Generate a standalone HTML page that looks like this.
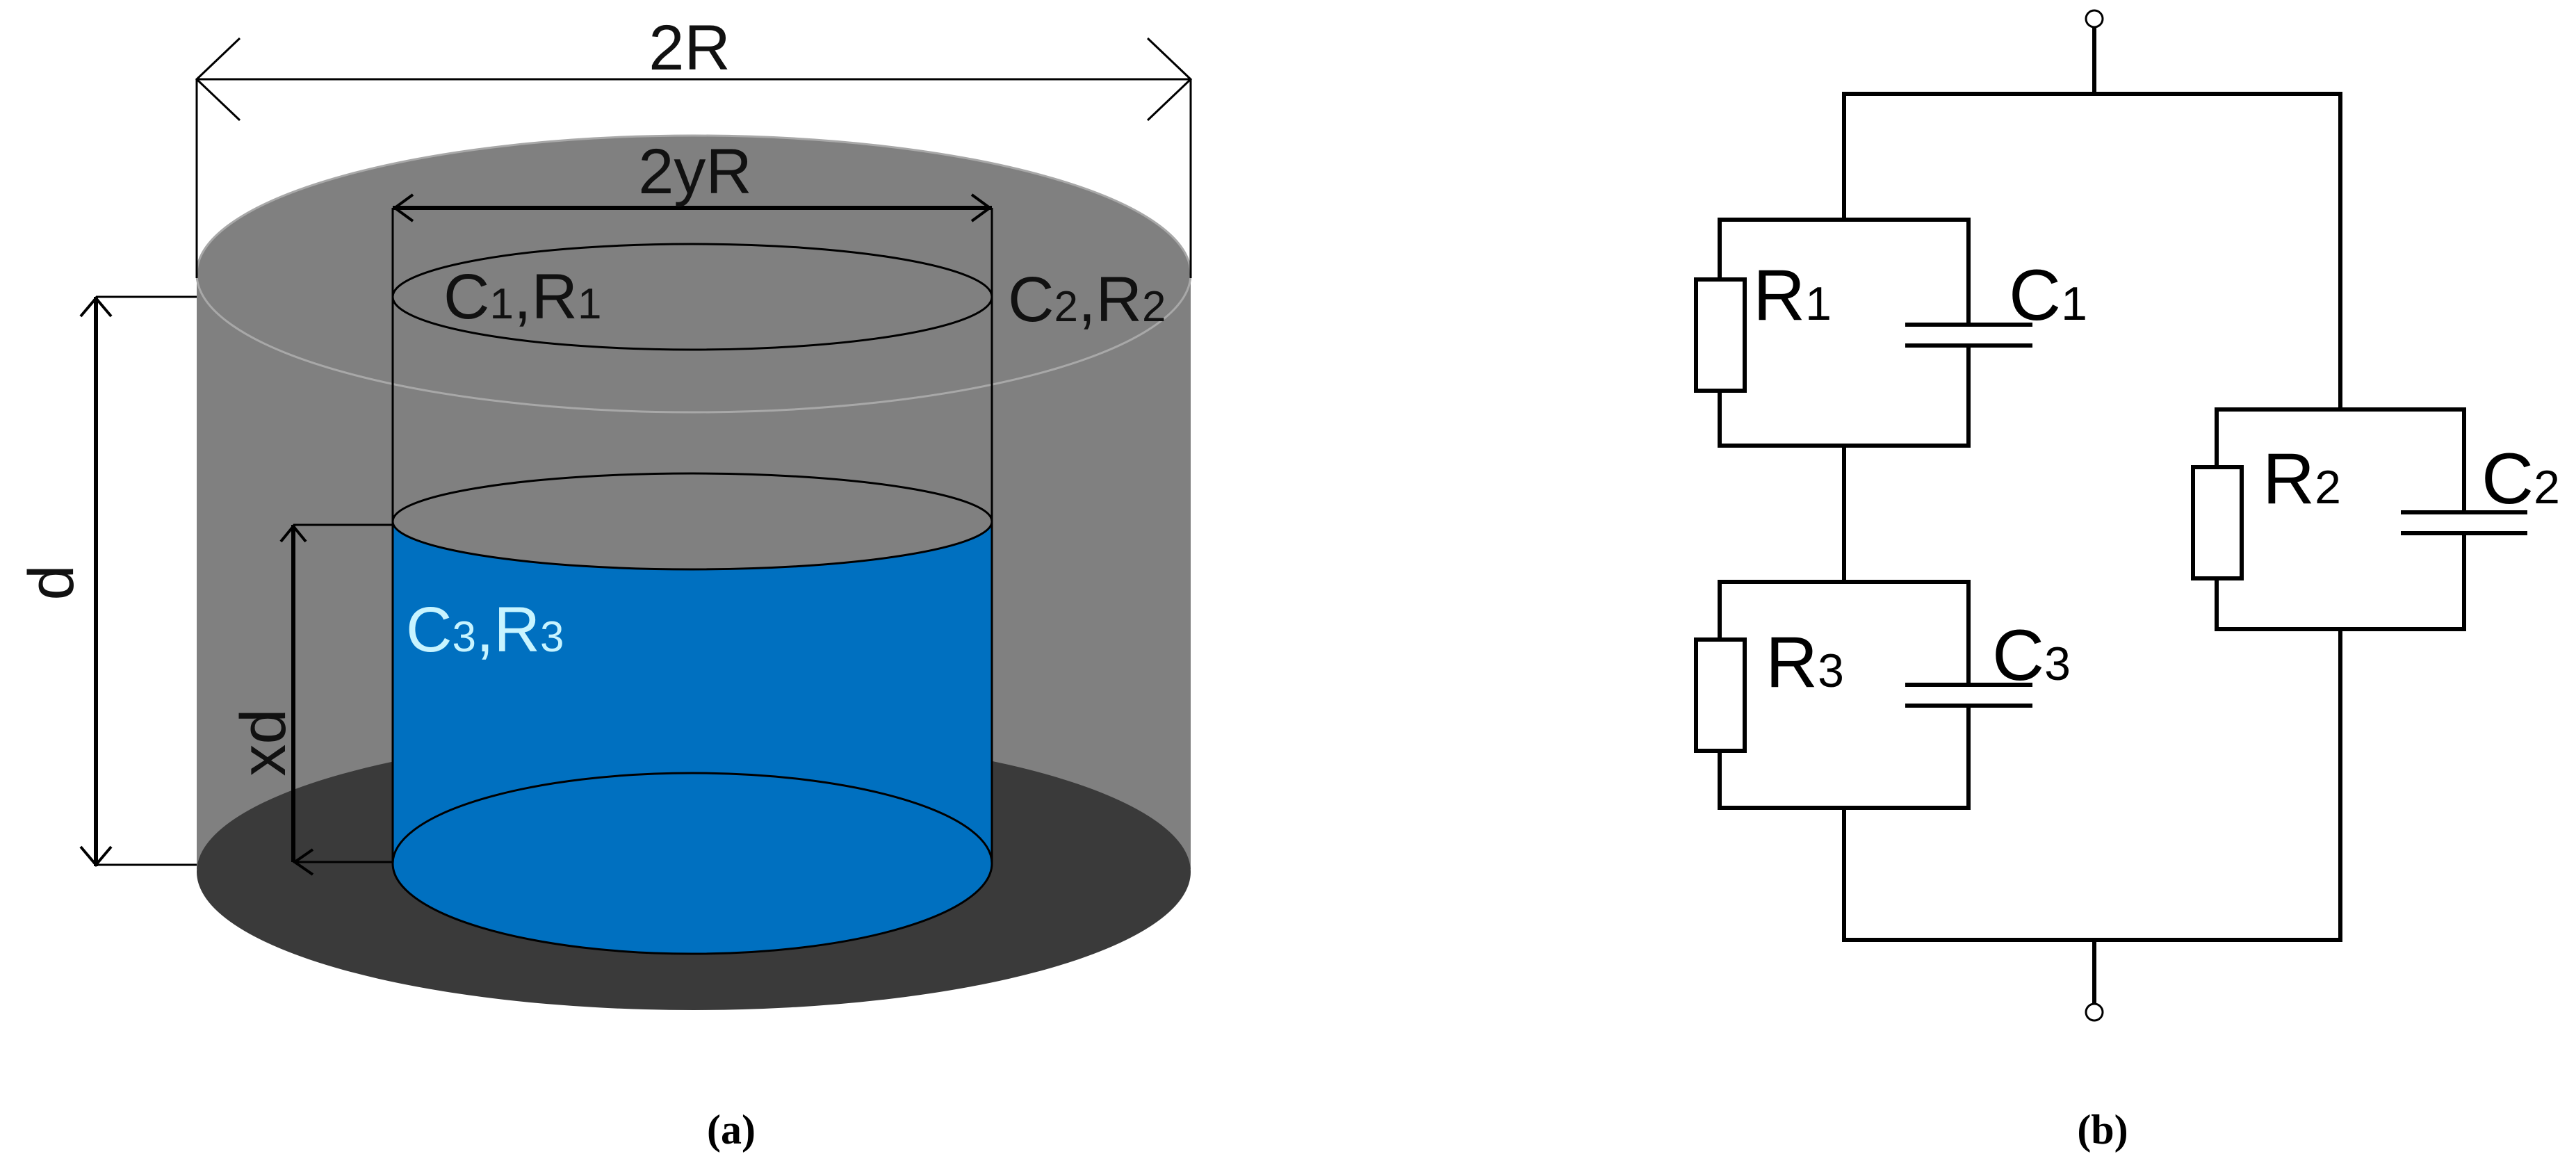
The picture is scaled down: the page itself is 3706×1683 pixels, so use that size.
<!DOCTYPE html>
<html><head><meta charset="utf-8"><style>html,body{margin:0;padding:0;background:#fff}svg{display:block}</style></head>
<body>
<svg width="3706" height="1683" viewBox="0 0 3706 1683" xmlns="http://www.w3.org/2000/svg" font-family="Liberation Sans, sans-serif">
<!-- Figure (a) -->
<rect x="283" y="394" width="1430" height="856" fill="#808080"/>
<ellipse cx="998" cy="1254" rx="715" ry="199" fill="#3a3a3a"/>
<ellipse cx="998" cy="394" rx="715" ry="199" fill="#808080" stroke="#a8a8a8" stroke-width="3"/>
<rect x="565" y="750" width="862" height="492" fill="#0070c0"/>
<ellipse cx="996" cy="1242" rx="431" ry="130" fill="#0070c0" stroke="#000" stroke-width="3"/>
<ellipse cx="996" cy="750" rx="431" ry="69" fill="#808080" stroke="#000" stroke-width="3"/>
<ellipse cx="996" cy="427" rx="431" ry="76" fill="none" stroke="#000" stroke-width="3"/>
<g stroke="#000" fill="none">
<line x1="565" y1="299" x2="565" y2="1242" stroke-width="3"/>
<line x1="1427" y1="299" x2="1427" y2="1242" stroke-width="3"/>
<line x1="283" y1="114" x2="283" y2="400" stroke-width="3"/>
<line x1="1713" y1="114" x2="1713" y2="400" stroke-width="3"/>
<line x1="283" y1="114" x2="1713" y2="114" stroke-width="3"/>
<path d="M345 55 L283 114 L345 173 M1651 55 L1713 114 L1651 173" stroke-width="3"/>
<line x1="565" y1="299" x2="1427" y2="299" stroke-width="6"/>
<path d="M594 280 L568 299 L594 318 M1398 280 L1424 299 L1398 318" stroke-width="4"/>
<line x1="138" y1="427" x2="138" y2="1246" stroke-width="6"/>
<path d="M116 455 L138 429 L160 455 M116 1218 L138 1244 L160 1218" stroke-width="4"/>
<line x1="138" y1="427" x2="283" y2="427" stroke-width="3"/>
<line x1="138" y1="1244" x2="283" y2="1244" stroke-width="3"/>
<line x1="422" y1="755" x2="422" y2="1240" stroke-width="6"/>
<line x1="422" y1="755" x2="565" y2="755" stroke-width="3"/>
<line x1="422" y1="1240" x2="565" y2="1240" stroke-width="3"/>
<path d="M404 779 L422 757 L440 779 M450 1222 L424 1240 L450 1258" stroke-width="4"/>
</g>
<g font-size="92" fill="#111">
<text x="992" y="100" text-anchor="middle">2R</text>
<text x="1000" y="278" text-anchor="middle">2yR</text>
<text x="638" y="458">C<tspan font-size="62">1</tspan>,R<tspan font-size="62">1</tspan></text>
<text x="1450" y="462">C<tspan font-size="62">2</tspan>,R<tspan font-size="62">2</tspan></text>
<text x="584" y="937" fill="#c8f4ff">C<tspan font-size="62">3</tspan>,R<tspan font-size="62">3</tspan></text>
<text transform="translate(105,838) rotate(-90)" text-anchor="middle">d</text>
<text transform="translate(410,1068) rotate(-90)" text-anchor="middle">xd</text>
</g>
<text x="1052" y="1645" font-family="Liberation Serif, serif" font-weight="bold" font-size="60" text-anchor="middle">(a)</text>
<!-- Figure (b) -->
<g stroke="#000" stroke-width="6" fill="none">
<line x1="3013" y1="39" x2="3013" y2="135"/>
<circle cx="3013" cy="27" r="12" stroke-width="3" fill="#fff"/>
<polyline points="2653,316 2653,135 3367,135 3367,589"/>
<rect x="2474" y="316" width="358" height="325"/>
<rect x="2474" y="837" width="358" height="325"/>
<rect x="3189" y="589" width="356" height="316"/>
<line x1="2653" y1="641" x2="2653" y2="837"/>
<polyline points="2653,1162 2653,1352 3367,1352 3367,905"/>
<line x1="3013" y1="1352" x2="3013" y2="1444"/>
<circle cx="3013" cy="1456" r="12" stroke-width="3" fill="#fff"/>
</g>
<g fill="#fff" stroke="#000" stroke-width="6">
<rect x="2440" y="402" width="70" height="160"/>
<rect x="2440" y="920" width="70" height="160"/>
<rect x="3155" y="672" width="70" height="160"/>
<rect x="2735" y="470" width="195" height="24" stroke="none"/>
<rect x="2735" y="988" width="195" height="24" stroke="none"/>
<rect x="3450" y="740" width="195" height="24" stroke="none"/>
</g>
<g stroke="#000" stroke-width="6">
<line x1="2741" y1="467" x2="2924" y2="467"/><line x1="2741" y1="497" x2="2924" y2="497"/>
<line x1="2741" y1="985" x2="2924" y2="985"/><line x1="2741" y1="1015" x2="2924" y2="1015"/>
<line x1="3454" y1="737" x2="3636" y2="737"/><line x1="3454" y1="767" x2="3636" y2="767"/>
</g>
<g font-size="104" fill="#000">
<text x="2522" y="460">R<tspan font-size="68">1</tspan></text>
<text x="2890" y="460">C<tspan font-size="68">1</tspan></text>
<text x="2540" y="988">R<tspan font-size="68">3</tspan></text>
<text x="2866" y="978">C<tspan font-size="68">3</tspan></text>
<text x="3255" y="724">R<tspan font-size="68">2</tspan></text>
<text x="3570" y="724">C<tspan font-size="68">2</tspan></text>
</g>
<text x="3025" y="1645" font-family="Liberation Serif, serif" font-weight="bold" font-size="60" text-anchor="middle">(b)</text>
</svg>
</body></html>
